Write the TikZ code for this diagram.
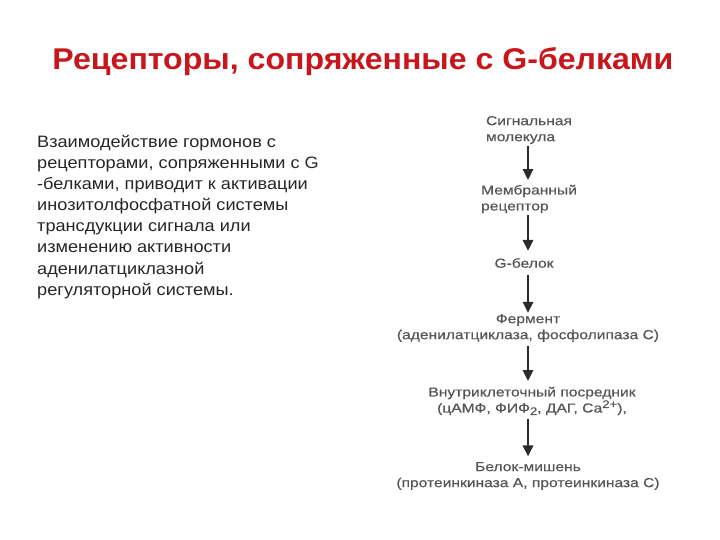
\documentclass[tikz,border=0pt]{standalone}
\usepackage{fontspec}
\setmainfont{Liberation Sans}
\newfontfamily\titlefont[FakeStretch=1.07]{Liberation Sans}
\newfontfamily\parafont[FakeStretch=1.1]{Liberation Sans}
\newfontfamily\flowfont[FakeStretch=1.2,FakeBold=0.4]{Liberation Sans}
\usetikzlibrary{arrows.meta}
\definecolor{titlered}{HTML}{C8161D}
\definecolor{flowgray}{HTML}{555555}
\definecolor{arrowgray}{HTML}{2A2A2A}
\newcommand{\flowsup}[1]{\raisebox{4.5pt}{\fontsize{11}{11}\selectfont #1}}
\newcommand{\flowsub}[1]{\raisebox{-2.5pt}{\fontsize{11}{11}\selectfont #1}}
\tikzset{
  flowtext/.style={text=flowgray, font=\flowfont\fontsize{13}{16}\selectfont, inner sep=0pt},
  flowarrow/.style={draw=arrowgray, line width=2.6pt, -{Triangle[length=11pt,width=10pt]}},
}
\begin{document}
\begin{tikzpicture}[x=1pt,y=-1pt]
\useasboundingbox (0,0) rectangle (720,540);
\node[text=titlered, font=\titlefont\bfseries\fontsize{30}{34}\selectfont] (title) at (363,62) {Рецепторы, сопряженные с G-белками};
\node[anchor=north west, align=left, inner sep=0pt, text=black!85, font=\parafont\fontsize{16.5}{21.1}\selectfont] (para) at (37,135) {Взаимодействие гормонов с\\рецепторами, сопряженными с G\\-белками, приводит к активации\\инозитолфосфатной системы\\трансдукции сигнала или\\изменению активности\\аденилатциклазной\\регуляторной системы.};
\node[flowtext, align=left] (n1) at (529,130) {Сигнальная\\молекула};
\node[flowtext, align=left] (n2) at (529,199) {Мембранный\\рецептор};
\node[flowtext] (n3) at (524,263) {G-белок};
\node[flowtext, align=center] (n4) at (528,328) {Фермент\\(аденилатциклаза, фосфолипаза С)};
\node[flowtext, align=center] (n5) at (532,401) {Внутриклеточный посредник\\(цАМФ, ФИФ\flowsub{2}, ДАГ, Са\flowsup{2+}),};
\node[flowtext, align=center] (n6) at (528,476) {Белок-мишень\\(протеинкиназа А, протеинкиназа С)};
\coordinate (ax) at (528,0);
\draw[flowarrow, shorten <=1.5pt, shorten >=4.5pt] (n1.south -| ax) -- (n2.north -| ax);
\draw[flowarrow, shorten <=1.5pt, shorten >=7pt] (n2.south -| ax) -- (n3.north -| ax);
\draw[flowarrow, shorten <=7pt, shorten >=1pt] (n3.south -| ax) -- (n4.north -| ax);
\draw[flowarrow, shorten <=3.5pt, shorten >=5.5pt] (n4.south -| ax) -- (n5.north -| ax);
\draw[flowarrow, shorten <=4pt, shorten >=5.5pt] (n5.south -| ax) -- (n6.north -| ax);
\end{tikzpicture}
\end{document}
